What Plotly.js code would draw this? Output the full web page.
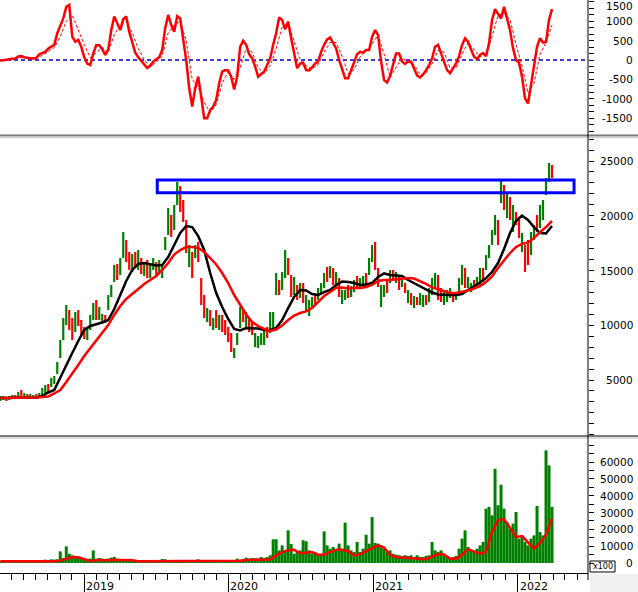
<!DOCTYPE html>
<html><head><meta charset="utf-8">
<script src="https://cdn.plot.ly/plotly-3.0.1.min.js"></script>
<style>html,body{margin:0;padding:0;background:#fff;}#chart{width:638px;height:592px;}</style>
</head><body><div id="chart"></div>
<script>
// ---- time index: one sample every ~7.58 days starting 2018-06-03 ----
const START_DATE = [2018, 5, 3];
const SAMPLE_DAYS = 7.583;

// ---- price (weekly ranges) ----
const priceLow = [
3080,3170,3080,3170,3260,3260,3360,3450,3360,3260,
3260,3260,3260,3360,3540,3810,3900,4360,4640,5550,
7010,8650,10020,9570,8650,9380,9930,9020,8740,8650,
9570,10480,10480,10480,10300,10200,11390,12580,13950,14130,
14590,16140,15770,15050,14860,15230,15050,14680,14500,14310,
14310,15050,14410,14860,14310,16870,18240,18060,18700,20980,
20340,19430,16600,15320,14310,16140,15770,11850,10660,10300,
9930,9570,9750,9570,9380,9110,8470,7560,7010,8200,
9750,10300,9750,9380,9110,8010,7920,8200,8200,8840,
9290,9570,12760,12760,13220,14310,14590,12580,12760,12310,
12490,12030,11210,10840,11570,11850,12310,12760,13400,13950,
14310,13680,13400,12580,11940,12310,12490,12580,13030,13490,
13400,13490,13490,14590,15770,15050,13490,11670,12580,12940,
13860,14130,13860,13220,13490,12940,12030,11850,11570,11850,
11850,11670,11850,12120,12760,13400,12310,12120,11850,12120,
12490,12120,12310,13030,13680,13400,13400,13030,13400,13400,
13680,13950,15050,16140,17330,18240,17330,21160,20530,19790,
19610,18510,19160,17970,16690,14860,15500,16410,17780,18510,
18880,19610,21890,23080,23450];
const priceHigh = [
3540,3540,3450,3540,3630,3630,3900,4090,3810,3720,
3720,3630,3720,3810,4270,4540,4640,5180,5370,6640,
8650,10660,11850,11390,10660,11210,11390,10480,9840,9750,
10940,12030,12310,11670,11030,10940,12760,13680,15500,15590,
16140,18510,17780,16690,16510,16690,16870,16140,15770,15960,
15500,16140,15770,15960,15500,18060,20710,20070,20980,23080,
22720,21440,19610,17330,16690,17330,17600,14310,12760,11570,
11390,10660,11390,10940,10940,10480,9840,9290,7920,9290,
11670,11390,11210,10660,10300,9290,9020,9290,9570,9840,
11210,11210,14770,14130,14860,16870,16140,14590,14410,13680,
13860,13860,12760,12310,12580,12760,13400,13860,14770,15320,
15410,15230,14860,14310,13220,13220,13680,13580,14130,14500,
14310,14500,14770,16140,17330,17600,15230,13680,13680,14130,
15050,15050,14860,14590,14130,13860,13220,12940,12670,12580,
12940,12760,12760,13400,14310,14770,14590,13400,13030,13220,
13400,13030,13030,14310,15500,15230,14410,13860,14130,14410,
15230,15230,16410,17330,18700,20070,19610,23260,22800,22080,
21710,20980,20340,19790,18420,17330,17780,18510,19160,20070,
20980,21440,23450,24820,24630];
// 1 = closed up (green), 0 = closed down (red)
const priceUp = [
1,1,0,1,1,0,1,0,1,0, 1,1,0,1,1,1,0,1,1,1,
1,1,1,0,0,1,0,0,0,1, 1,1,0,1,1,0,1,1,1,0,
1,1,0,0,1,0,1,0,1,0, 1,1,0,1,1,1,1,0,1,1,
0,0,0,1,0,1,0,0,0,1, 0,1,0,1,0,0,0,0,1,1,
1,0,1,0,0,1,1,1,1,0, 1,1,1,0,1,1,0,0,1,0,
1,0,1,1,1,0,1,1,1,0, 1,0,1,0,1,1,0,1,1,0,
1,1,0,1,1,0,0,1,1,0, 1,0,1,0,1,0,1,0,1,0,
1,1,0,1,1,1,0,0,1,1, 1,0,1,1,1,0,1,1,0,1,
1,0,1,1,1,1,0,1,0,1, 0,1,0,0,1,0,0,1,1,0,
1,1,1,1,0];

// ---- moving averages (every 2nd sample) ----
const maFast = [
3360,3360,3360,3360,3360,3360,3400,3540,3860,4090,
5270,6370,7470,8560,9570,9930,10070,10250,10480,11480,
12760,14040,15050,15590,15680,15590,15460,15500,16230,17330,
18420,19060,18970,18150,16870,14770,12940,11670,10570,9660,
9520,9750,9750,9700,9570,9570,9750,10480,11570,12580,
13220,13170,12850,12760,13030,13220,13680,14000,13950,13860,
13680,13720,13860,14410,14730,14590,14540,14500,14130,13860,
13540,13260,12990,12810,12760,12760,12760,12850,13220,13540,
13900,14310,14860,15680,16960,18420,19520,20020,19610,18970,
18420,18380,19060];
const maSlow = [
3360,3360,3360,3360,3360,3360,3400,3450,3490,3770,
4090,4820,5550,6370,7190,7920,8610,9340,10020,10940,
11760,12400,12850,13310,13770,14130,14500,15050,15680,16460,
16870,17140,17140,17050,16690,16140,15550,14770,13860,12760,
11850,10990,10300,9930,9660,9470,9610,9980,10480,10890,
11120,11260,11570,12120,12670,13030,13400,13450,13360,13400,
13400,13490,13680,14040,14130,14130,14180,14220,14310,14270,
14040,13770,13450,13260,13080,12940,12940,13030,13170,13360,
13580,13950,14450,15230,15960,16600,17140,17420,17560,17970,
18510,18970,19520];

// ---- oscillator ----
const macd = [
-20,0,10,20,30,40,90,100,70,50,
40,40,50,150,190,210,300,340,390,690,
900,1070,1370,1420,600,470,520,340,70,-90,
-130,170,380,380,280,130,260,770,1120,960,
770,1050,1120,730,430,190,70,-20,-130,-210,
-150,-40,20,70,260,820,1160,900,730,1130,
1070,560,0,-730,-1200,-730,-430,-940,-1500,-1500,
-1290,-1200,-1030,-600,-300,-260,-270,-430,-760,-430,
340,500,390,150,40,-170,-430,-360,-300,-130,
40,390,690,1100,1030,790,990,560,130,-210,
-90,-70,-260,-270,-190,-90,-40,210,390,530,
580,430,300,0,-260,-470,-470,-260,-40,150,
210,190,260,260,600,770,640,-40,-520,-580,
-410,-130,170,170,-40,-100,-40,-40,-210,-400,
-450,-380,-260,-130,40,340,390,170,-40,-260,
-340,-210,-90,100,390,560,470,270,90,20,
130,180,100,430,1030,1310,1200,1070,1370,1100,
770,300,0,-70,-430,-990,-1120,-640,-90,340,
560,450,470,1030,1310];
const macdSignal = [
-10,10,20,50,70,60,50,120,220,320,
600,1000,1150,750,400,60,180,320,200,650,
900,1000,700,300,0,-170,-60,100,700,900,
1000,500,-500,-700,-1100,-1350,-1150,-600,-300,-500,
-200,300,200,-200,-350,-150,300,850,950,500,
0,-150,-230,-120,200,450,450,100,-350,-250,
80,220,400,650,150,-450,-200,60,-60,-120,
-380,-330,-100,250,200,-200,-200,150,450,250,
80,130,600,1150,1200,1050,400,-150,-850,-600,
150,450,900];

// ---- volume (x100) ----
const volume = [
1200,1000,1400,1200,1000,1300,1100,1500,1000,800,
600,700,900,1200,1800,2000,1600,2200,2000,2200,
6900,3000,9900,5500,4600,4200,3600,3000,2200,2200,
2600,7500,2600,3000,2600,2200,2600,3200,3600,2600,
2200,1800,1800,1800,1600,1800,1500,1800,1600,1500,
1800,1600,1500,1800,2400,2200,1600,1500,1600,1800,
1500,1600,1500,1600,1500,1600,2200,1600,1500,1600,
1500,1600,1500,1700,1500,1600,1500,1700,1800,2600,
2000,2200,3200,2600,3000,2800,2600,3600,3000,3600,
4600,14100,14100,7500,10500,7500,19400,11300,5500,6500,
7500,13500,12900,7500,5500,6500,5500,4600,18800,10500,
8500,9500,7500,11500,8500,24000,10500,7500,6500,12500,
6500,8500,16800,11500,27300,11900,11500,10500,8500,6500,
7500,5500,5000,4600,4200,4600,4200,4600,3600,4600,
3600,3600,4200,4600,12500,7500,6500,7500,4600,3600,
2600,3600,4200,8500,14500,19400,9500,7500,6500,8500,
10500,12500,32300,33300,28300,56000,34300,46500,32300,24400,
20400,23400,30300,14500,16400,12500,10500,14500,16400,33900,
18400,16400,66900,58000,33300];
const volumeMA = [
1000,1000,1000,1000,900,700,700,1000,1000,1000,
1400,2600,3600,3400,2400,1200,1600,1800,1800,1800,
1800,1800,1600,1000,1000,1000,1000,1000,1000,1000,
1000,1000,1000,1000,1000,1000,1000,1000,1000,1100,
1400,1800,1800,1800,1800,2000,4500,6500,7600,7800,
5800,6300,6500,4800,5000,6500,7900,7900,7000,4500,
5300,7000,9000,10500,9200,4800,3500,3300,3200,3000,
2800,2300,3800,5300,5000,2500,2500,4800,8200,7000,
5600,6500,18500,25500,26000,21000,15400,16000,12500,8500,
12000,17000,26300];

// ---- marked resistance zone ----
const zoneStart = '2019-07-05', zoneEnd = '2022-05-24';
const zoneLow = 22100, zoneHigh = 23260;

// ---- tick labels ----
const macdTicks = [1500, 1000, 500, 0, -500, -1000, -1500];
const priceTicks = [25000, 20000, 15000, 10000, 5000];
const volTicks = [60000, 50000, 40000, 30000, 20000, 10000, 0];
const yearLabels = ['2019', '2020', '2021', '2022'];

// ================= build =================
const DAY = 86400000;
const T0 = Date.UTC(START_DATE[0], START_DATE[1], START_DATE[2]);
function sd(i) { return new Date(T0 + i * SAMPLE_DAYS * DAY).toISOString().slice(0, 19).replace('T', ' '); }
const xs = priceLow.map((_, i) => sd(i));
const xs2 = maFast.map((_, k) => sd(2 * k));

const W = 638, H = 592, ML = 0, MR = 50, MT = 0, MB = 19;
const PW = W - ML - MR, PH = H - MT - MB;
const px = x => (x - ML) / PW;          // page x -> paper
const py = y => 1 - (y - MT) / PH;      // page y -> paper
const GREEN = '#008000', RED = '#ff0000';
const font = {family: 'DejaVu Sans, Verdana, sans-serif', size: 10.5, color: '#000'};

const traces = [
  {type: 'bar', x: xs, base: priceLow, y: priceHigh.map((h, i) => h - priceLow[i]),
   yaxis: 'y2', width: 2.2 * 2.5277 * DAY,
   marker: {color: priceUp.map(u => u ? GREEN : RED), line: {width: 0}}},
  {type: 'scatter', mode: 'lines', x: xs2, y: maFast, yaxis: 'y2', line: {color: '#000', width: 2.5}},
  {type: 'scatter', mode: 'lines', x: xs2, y: maSlow, yaxis: 'y2', line: {color: RED, width: 2.5}},
  {type: 'scatter', mode: 'lines', x: xs2, y: macdSignal, yaxis: 'y', line: {color: RED, width: 1, dash: '3px,2px'}},
  {type: 'scatter', mode: 'lines', x: xs, y: macd, yaxis: 'y', line: {color: RED, width: 2.5}},
  {type: 'bar', x: xs, y: volume, yaxis: 'y3', width: SAMPLE_DAYS * DAY,
   marker: {color: GREEN, line: {width: 0}}},
  {type: 'scatter', mode: 'lines', x: xs2, y: volumeMA, yaxis: 'y3', line: {color: RED, width: 2.5}}
];

const annotations = [];
macdTicks.forEach(v => annotations.push({xref: 'paper', yref: 'y', x: px(635), y: v, text: String(v), xanchor: 'right', yanchor: 'middle', yshift: v === 1500 ? -4 : 0, showarrow: false, font}));
priceTicks.forEach(v => annotations.push({xref: 'paper', yref: 'y2', x: px(635), y: v, text: String(v), xanchor: 'right', yanchor: 'middle', showarrow: false, font}));
volTicks.forEach(v => annotations.push({xref: 'paper', yref: 'y3', x: px(635), y: v, text: String(v), xanchor: 'right', yanchor: 'middle', showarrow: false, font}));
yearLabels.forEach(yr => annotations.push({xref: 'x', yref: 'paper', x: yr + '-01-01', y: py(586), text: yr, xanchor: 'left', yanchor: 'middle', xshift: 0, showarrow: false, font: {family: font.family, size: 11, color: '#000'}}));
annotations.push({xref: 'paper', yref: 'paper', x: px(602.5), y: py(566.5), text: 'x100', xanchor: 'center', yanchor: 'middle', showarrow: false, font: {family: font.family, size: 8, color: '#000'}});

const shapes = [
  {type: 'line', xref: 'paper', yref: 'y', x0: 0, x1: 1, y0: 0, y1: 0, layer: 'below', line: {color: '#0000cc', width: 1.5, dash: '4px,3px'}},
  {type: 'rect', xref: 'x', yref: 'y2', x0: zoneStart, x1: zoneEnd, y0: zoneLow, y1: zoneHigh, line: {color: '#0000ff', width: 3}, fillcolor: 'rgba(0,0,0,0)'},
  {type: 'line', xref: 'paper', yref: 'paper', x0: 0, x1: px(638), y0: py(135.5), y1: py(135.5), line: {color: '#7a7a7a', width: 2}},
  {type: 'line', xref: 'paper', yref: 'paper', x0: 0, x1: px(638), y0: py(137.5), y1: py(137.5), line: {color: '#cfcfcf', width: 1.5}},
  {type: 'line', xref: 'paper', yref: 'paper', x0: 0, x1: px(638), y0: py(436), y1: py(436), line: {color: '#7a7a7a', width: 2}},
  {type: 'line', xref: 'paper', yref: 'paper', x0: 0, x1: px(638), y0: py(438), y1: py(438), line: {color: '#cfcfcf', width: 1.5}},
  {type: 'rect', xref: 'paper', yref: 'paper', x0: px(590), x1: px(638), y0: py(592), y1: py(574), line: {width: 0}, fillcolor: '#f0f0f0'},
  {type: 'line', xref: 'paper', yref: 'paper', x0: 1, x1: 1, y0: py(580), y1: 1, line: {color: '#000', width: 1}},
  {type: 'rect', xref: 'paper', yref: 'paper', x0: px(590), x1: px(615), y0: py(572), y1: py(561), line: {color: '#000', width: 1}, fillcolor: 'rgba(0,0,0,0)'}
];

const yCommon = {side: 'right', anchor: 'x', ticks: 'outside', ticklen: 5, tickcolor: '#000', tickwidth: 1,
  showticklabels: false, showgrid: false, zeroline: false, showline: false, fixedrange: true};

const layout = {
  width: W, height: H, margin: {l: ML, r: MR, t: MT, b: MB, pad: 0},
  paper_bgcolor: '#fff', plot_bgcolor: '#fff', showlegend: false, hovermode: false, barmode: 'overlay',
  xaxis: {type: 'date', range: [sd(0 - 0.1), new Date(T0 + 588 * 2.5277 * DAY).toISOString().slice(0, 19).replace('T', ' ')],
    anchor: 'free', position: 0, showline: true, linecolor: '#000', linewidth: 1,
    ticks: 'outside', ticklen: 19, tickcolor: '#000', tickwidth: 1, dtick: 'M12', tick0: '2019-01-01',
    showticklabels: false, showgrid: false, zeroline: false,
    minor: {ticks: 'outside', dtick: 'M1', tick0: '2019-01-01', ticklen: 6, tickcolor: '#000', tickwidth: 1, showgrid: false}},
  yaxis: Object.assign({}, yCommon, {domain: [py(134), 1], range: [-1907, 1546], dtick: 500, tick0: 0,
    minor: {dtick: 500 / 3, ticklen: 5, tickcolor: '#000', ticks: 'outside', showgrid: false}}),
  yaxis2: Object.assign({}, yCommon, {domain: [py(435), py(137.5)], range: [-23, 27146], dtick: 5000, tick0: 0,
    minor: {dtick: 1000, ticklen: 5, tickcolor: '#000', ticks: 'outside', showgrid: false}}),
  yaxis3: Object.assign({}, yCommon, {domain: [py(563), py(439)], range: [0, 73680], dtick: 10000, tick0: 0,
    minor: {dtick: 5000, ticklen: 5, tickcolor: '#000', ticks: 'outside', showgrid: false}}),
  annotations, shapes
};

Plotly.newPlot('chart', traces, layout, {staticPlot: true, displayModeBar: false});
</script></body></html>
